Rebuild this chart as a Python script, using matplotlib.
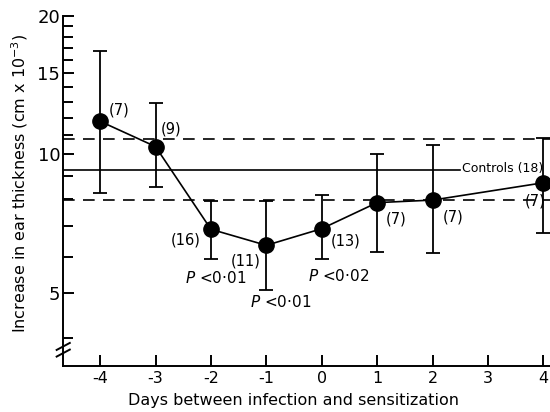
import matplotlib.pyplot as plt
from matplotlib.ticker import FixedLocator, NullFormatter

plt.rcParams['font.family'] = ['DejaVu Sans']
plt.rcParams['mathtext.fontset'] = 'dejavusans'
plt.rcParams['axes.unicode_minus'] = False

# Data
days = [-4, -3, -2, -1, 0, 1, 2, 4]
mean_thick = [11.8, 10.4, 6.88, 6.35, 6.90, 7.86, 7.96, 8.68]
err_high = [16.8, 12.9, 7.92, 7.92, 8.15, 10.0, 10.46, 10.87]
err_low = [8.23, 8.51, 5.92, 5.08, 5.92, 6.14, 6.10, 6.76]
n_labels = ["(7)", "(9)", "(16)", "(11)", "(13)", "(7)", "(7)", "(7)"]
# offsets of the n labels (points)
n_offsets = [(14, 8), (11.5, 12.5), (-18, -8), (-14.5, -11), (17, -9), (14, -11.5), (14.5, -12), (-6, -13)]

p_days = [-2, -1, 0]
p_labels = ["$P$ <0·01", "$P$ <0·01", "$P$ <0·02"]
p_offsets = [(3.5, -35), (10, -40.5), (12.5, -34)]

ctrl_mean = 9.23
ctrl_high = 10.81
ctrl_low = 7.96
ctrl_label = "Controls (18)"

xticks = [-4, -3, -2, -1, 0, 1, 2, 3, 4]
xticklabels = ["-4", "-3", "-2", "-1", "0", "1", "2", "3", "4"]
yticks = [5, 10, 15, 20]
yminor = [4, 6, 7, 8, 9, 11, 12, 13, 14, 16, 17, 18, 19]

fig = plt.figure(figsize=(5.5, 4.12), dpi=100)
ax = fig.add_axes([0.1145, 0.1124, 0.8855, 0.8495])

ax.set_yscale('log')
ax.set_xlim(-4.67, 4.12)
ax.set_ylim(3.48, 20)

# control band
ax.axhline(ctrl_high, color='black', lw=1.2, dashes=(7, 5))
ax.axhline(ctrl_low, color='black', lw=1.2, dashes=(7, 5))
ax.plot([-4.67, 2.5], [ctrl_mean, ctrl_mean], color='black', lw=1.2)
ax.text(2.53, ctrl_mean + 0.1, ctrl_label, fontsize=9, va='center', ha='left')

yerr = [[m - lo for m, lo in zip(mean_thick, err_low)],
        [hi - m for m, hi in zip(mean_thick, err_high)]]
ax.errorbar(days, mean_thick, yerr=yerr, fmt='o', color='black', ms=11,
            elinewidth=1.3, capsize=5, capthick=1.3, clip_on=False, zorder=3)
ax.plot(days, mean_thick, color='black', lw=1.2, clip_on=False, zorder=2)

for d, m, lab, off in zip(days, mean_thick, n_labels, n_offsets):
    ax.annotate(lab, (d, m), xytext=off, textcoords='offset points',
                ha='center', va='center', fontsize=10.5)

for d, lab, off in zip(p_days, p_labels, p_offsets):
    m = mean_thick[days.index(d)]
    ax.annotate(lab, (d, m), xytext=off, textcoords='offset points',
                ha='center', va='center', fontsize=11)

ax.spines['top'].set_visible(False)
ax.spines['right'].set_visible(False)
ax.spines['left'].set_linewidth(1.4)
ax.spines['bottom'].set_linewidth(1.4)

ax.set_xticks(xticks)
ax.set_xticklabels(xticklabels, fontsize=11.5)
ax.yaxis.set_major_locator(FixedLocator(yticks))
ax.yaxis.set_minor_locator(FixedLocator(yminor))
ax.set_yticklabels([str(v) for v in yticks], fontsize=13)
ax.yaxis.set_minor_formatter(NullFormatter())
ax.tick_params(axis='x', direction='in', length=8, width=1.4, pad=4)
ax.tick_params(axis='y', which='major', direction='in', length=8, width=1.4, pad=2)
ax.tick_params(axis='y', which='minor', direction='in', length=7, width=1.4)

# axis break marks
for y0 in [0.045, 0.026]:
    ax.plot([-0.013, 0.014], [y0, y0 + 0.02], transform=ax.transAxes,
            color='black', lw=1.4, clip_on=False)

fig.text(294 / 550, 1 - 401 / 412, "Days between infection and sensitization",
         ha='center', va='center', fontsize=11.5)
fig.text(20 / 550, 1 - 183 / 412, "Increase in ear thickness (cm x 10$^{-3}$)",
         ha='center', va='center', rotation=90, fontsize=11.5)

fig.savefig("out.png", dpi=100)
